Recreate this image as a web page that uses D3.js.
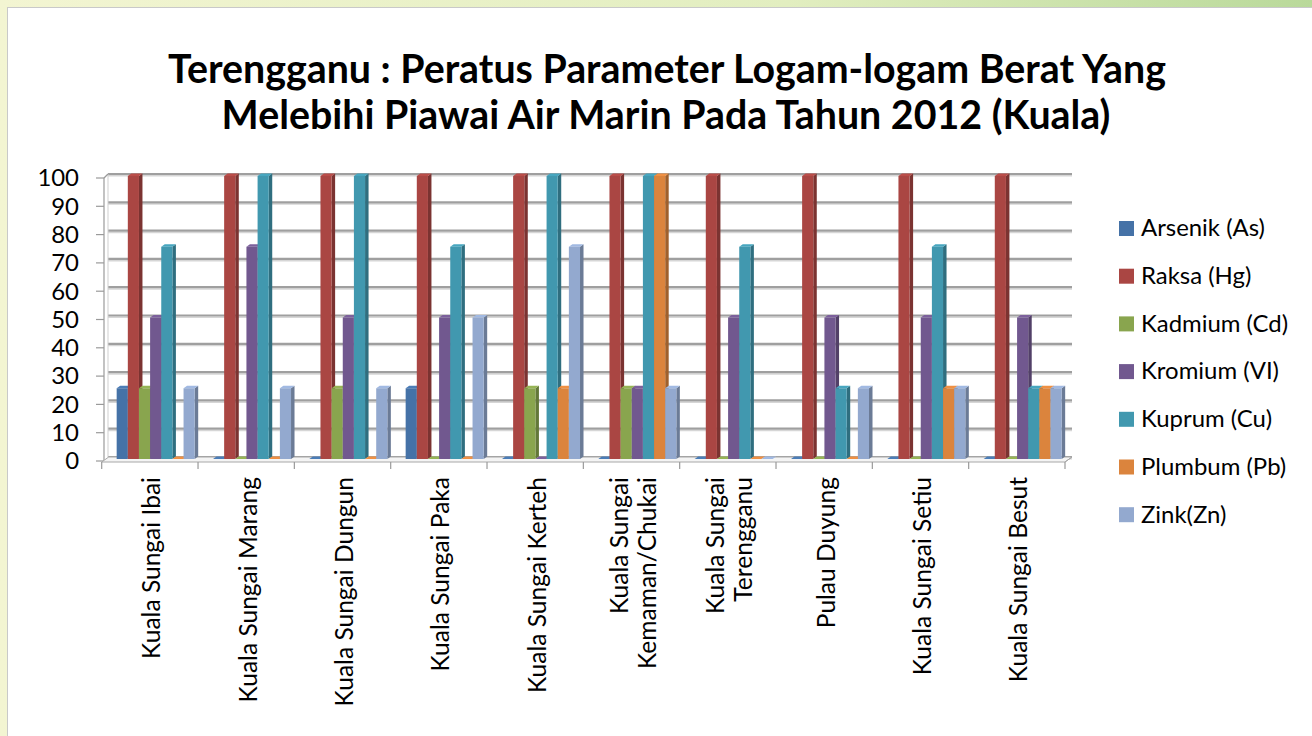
<!DOCTYPE html>
<html><head><meta charset="utf-8">
<script src="https://cdn.jsdelivr.net/npm/d3@7"></script>
<style>html,body{margin:0;padding:0;background:#fff}svg{display:block}text{font-family:Lato,"Open Sans",sans-serif;fill:#000}</style>
</head><body>
<svg id="c" width="1312" height="736"></svg>
<script>
const titleLines = ["Terengganu : Peratus Parameter Logam-logam Berat Yang", "Melebihi Piawai Air Marin Pada Tahun 2012 (Kuala)"];
const categories = ["Kuala Sungai Ibai","Kuala Sungai Marang","Kuala Sungai Dungun","Kuala Sungai Paka","Kuala Sungai Kerteh","Kuala Sungai Kemaman/Chukai","Kuala Sungai Terengganu","Pulau Duyung","Kuala Sungai Setiu","Kuala Sungai Besut"];
const categoryLabelLines = [["Kuala Sungai Ibai"],["Kuala Sungai Marang"],["Kuala Sungai Dungun"],["Kuala Sungai Paka"],["Kuala Sungai Kerteh"],["Kuala Sungai","Kemaman/Chukai"],["Kuala Sungai","Terengganu"],["Pulau Duyung"],["Kuala Sungai Setiu"],["Kuala Sungai Besut"]];
const seriesNames = ["Arsenik (As)","Raksa (Hg)","Kadmium (Cd)","Kromium (VI)","Kuprum (Cu)","Plumbum (Pb)","Zink(Zn)"];
const seriesColors = ["#4572A7","#AA4643","#89A54E","#71588F","#4198AF","#DB843D","#93A9CF"];
const arsenik = [25,0,0,25,0,0,0,0,0,0];
const raksa   = [100,100,100,100,100,100,100,100,100,100];
const kadmium = [25,0,25,0,25,25,0,0,0,0];
const kromium = [50,75,50,50,0,25,50,50,50,50];
const kuprum  = [75,100,100,75,100,100,75,25,75,25];
const plumbum = [0,0,0,0,25,100,0,0,25,25];
const zink    = [25,25,25,50,75,25,0,25,25,25];
const yTicks = [0,10,20,30,40,50,60,70,80,90,100];
const seriesValues = [arsenik,raksa,kadmium,kromium,kuprum,plumbum,zink];

const svg = d3.select("#c");
const defs = svg.append("defs");
const g1 = defs.append("linearGradient").attr("id","bg").attr("x1","0").attr("x2","1").attr("y1","0").attr("y2","0");
g1.append("stop").attr("offset","0").attr("stop-color","#f3f5d2");
g1.append("stop").attr("offset","0.6").attr("stop-color","#e2eec0");
g1.append("stop").attr("offset","1").attr("stop-color","#b9d99a");
svg.append("rect").attr("width",1312).attr("height",736).attr("fill","url(#bg)");
svg.append("rect").attr("x",7.5).attr("y",7.5).attr("width",1310).attr("height",740).attr("fill","#fff").attr("stroke","#c9c9c9");

// title
const tSel = svg.append("g").selectAll("text").data(titleLines).join("text")
  .attr("x",(d,i)=>i===0?667:666).attr("y",(d,i)=>i===0?83:129)
  .attr("text-anchor","middle").style("font-weight","bold").style("font-size","36px").text(d=>d);
{
  const w = tSel.nodes()[0].getComputedTextLength();
  const fs = 36*998/w;
  tSel.style("font-size",fs+"px");
}

// scales
const x = d3.scaleBand().domain(categories).range([101.7,1065]).padding(0);
const bw = x.bandwidth();
const xs = d3.scaleBand().domain(seriesNames).range([bw*0.145, bw*0.955]).padding(0);
const y = d3.scaleLinear().domain([0,100]).range([461,178]);
const depthX = 7, depthY = 4;

// back wall gridlines
const grid = svg.append("g");
yTicks.forEach(v=>{
  const yy = y(v)-depthY;
  grid.append("line").attr("x1",104+depthX-3).attr("x2",x.range()[1]+depthX).attr("y1",yy+1.8).attr("y2",yy+1.8).attr("stroke","#d6d6d6").attr("stroke-width",1.5);
  grid.append("line").attr("x1",104+depthX-3).attr("x2",x.range()[1]+depthX).attr("y1",yy).attr("y2",yy).attr("stroke","#9f9f9f").attr("stroke-width",2.2);
});
const ax = svg.append("g").attr("stroke","#9a9a9a").attr("fill","none");
ax.append("line").attr("x1",104).attr("x2",104).attr("y1",y(100)).attr("y2",y(0)).attr("stroke-width",1.2);
ax.append("line").attr("x1",104+depthX-3).attr("x2",104+depthX-3).attr("y1",y(100)-depthY).attr("y2",y(0)-depthY).attr("stroke","#cfcfcf");
yTicks.forEach(v=>{
  ax.append("line").attr("x1",96).attr("x2",104).attr("y1",y(v)).attr("y2",y(v)).attr("stroke-width",1.2);
});
ax.append("line").attr("x1",104).attr("x2",104+depthX-3).attr("y1",y(100)).attr("y2",y(100)-depthY).attr("stroke-width",1.2);
const x0 = x.range()[0], x1 = x.range()[1];
svg.append("path").attr("d",`M${x0},${y(0)+1}L${x1},${y(0)+1}L${x1+depthX},${y(0)-depthY}L${x0+depthX},${y(0)-depthY}Z`)
  .attr("fill","#f4f4f4").attr("stroke","#a8a8a8");
svg.append("g").selectAll("line").data(d3.range(categories.length+1)).join("line")
  .attr("x1",i=>x0+i*bw).attr("x2",i=>x0+i*bw).attr("y1",y(0)+1).attr("y2",y(0)+8)
  .attr("stroke","#9a9a9a").attr("stroke-width",1.2);
svg.append("line").attr("x1",x1).attr("x2",x1+depthX).attr("y1",y(0)+1).attr("y2",y(0)-depthY).attr("stroke","#a8a8a8");

const yl = svg.append("g").selectAll("text").data(yTicks).join("text")
  .attr("x",79).attr("y",d=>y(d)).attr("dy","0.35em").attr("text-anchor","end").style("font-size","22px").text(d=>d);

// bars
const bdx = 3.5, bdy = 2.5, bottomOff = 2;
const barsG = svg.append("g");
categories.forEach((c,ci)=>{
  seriesNames.forEach((s,si)=>{
    const v = seriesValues[si][ci];
    const col = d3.color(seriesColors[si]);
    const bx = x(c)+xs(s)+1, w = xs.bandwidth();
    const yb = y(0)-bottomOff, yt = y(v)-bottomOff;
    const g = barsG.append("g");
    g.append("path").attr("d",`M${bx+w},${yt}L${bx+w+bdx},${yt-bdy}L${bx+w+bdx},${yb-bdy}L${bx+w},${yb}Z`).attr("fill",col.darker(0.9));
    g.append("path").attr("d",`M${bx},${yt}L${bx+bdx},${yt-bdy}L${bx+w+bdx},${yt-bdy}L${bx+w},${yt}Z`).attr("fill",col.brighter(0.25));
    if (v>0) g.append("rect").attr("x",bx).attr("y",yt).attr("width",w).attr("height",yb-yt).attr("fill",col);
  });
});

const cl = svg.append("g");
categoryLabelLines.forEach((lines,ci)=>{
  const cx = x(categories[ci])+bw/2;
  const n = lines.length;
  lines.forEach((t,li)=>{
    const off = n===1?2:(li===0?-12:16);
    cl.append("text").attr("transform",`translate(${cx+off},477) rotate(-90)`)
      .attr("text-anchor","end").attr("dy","0.35em").style("font-size","22px").text(t);
  });
});
{
  const nodes = cl.selectAll("text").nodes();
  const w = nodes[0].getComputedTextLength();
  const fs = 22*182/w;
  cl.selectAll("text").style("font-size",fs+"px");
}

const lg = svg.append("g").selectAll("g").data(seriesNames).join("g")
  .attr("transform",(d,i)=>`translate(1119,${228+i*47.7})`);
lg.append("rect").attr("x",0).attr("y",-7).attr("width",15).attr("height",15).attr("fill",(d,i)=>seriesColors[i]);
const lt = lg.append("text").attr("x",22).attr("y",0).attr("dy","0.35em").style("font-size","22px").text(d=>d);
{
  const w = lt.nodes()[0].getComputedTextLength();
  const fs = 22*124/w;
  lt.style("font-size",fs+"px");
  yl.style("font-size",fs+"px");
}
</script>
</body></html>
